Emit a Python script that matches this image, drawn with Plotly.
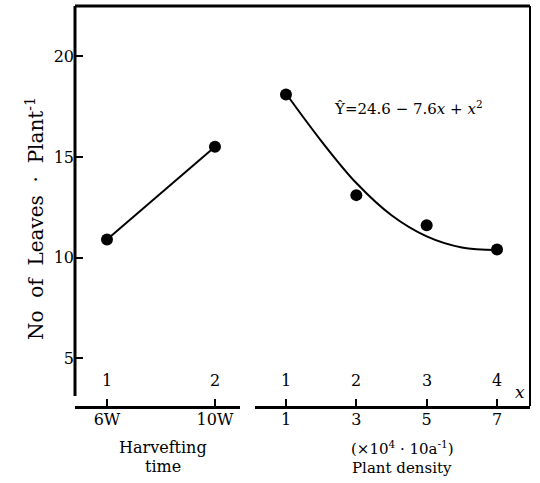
import plotly.graph_objects as go

# ---- data ----
harvest_labels = ["6W", "10W"]
harvest_code = [1, 2]
harvest_leaves = [10.9, 15.5]

density = [1, 3, 5, 7]
density_code = [1, 2, 3, 4]
density_leaves = [18.1, 13.1, 11.6, 10.4]

# fitted curve (density, leaves)
curve_density = [1, 2, 3, 4, 5, 6, 7]
curve_leaves = [18.15, 15.8, 13.7, 12.1, 11.05, 10.5, 10.37]

y_ticks = [5, 10, 15, 20]
equation = "Ŷ=24.6 − 7.6<i>x</i> + <i>x</i><sup>2</sup>"

FONT = "DejaVu Serif"
BLACK = "black"

fig = go.Figure()

fig.add_trace(go.Scatter(
    x=harvest_code, y=harvest_leaves, mode="lines+markers",
    line=dict(color=BLACK, width=2), marker=dict(color=BLACK, size=12),
    xaxis="x", yaxis="y", showlegend=False))

fig.add_trace(go.Scatter(
    x=curve_density, y=curve_leaves, mode="lines", line_shape="spline",
    line=dict(color=BLACK, width=2, smoothing=1.0),
    xaxis="x2", yaxis="y", showlegend=False))

fig.add_trace(go.Scatter(
    x=density, y=density_leaves, mode="markers",
    marker=dict(color=BLACK, size=12),
    xaxis="x2", yaxis="y", showlegend=False))

axis_common = dict(showgrid=False, zeroline=False, ticks="inside", ticklen=7,
                   tickwidth=2, tickcolor=BLACK, showline=True, linewidth=3,
                   linecolor=BLACK, automargin=False, ticklabelstandoff=-3,
                   tickfont=dict(family=FONT, size=16, color=BLACK))

fig.update_layout(
    width=540, height=483,
    margin=dict(l=75, r=10, t=6, b=77),
    paper_bgcolor="white", plot_bgcolor="white",
    font=dict(family=FONT, color=BLACK),
    xaxis=dict(domain=[0, 0.3626], range=[0.7037, 2.2315],
               tickmode="array", tickvals=harvest_code, ticktext=harvest_labels,
               anchor="y", **axis_common),
    xaxis2=dict(domain=[0.3956, 1], range=[0.1193, 7.9375],
                tickmode="array", tickvals=density, ticktext=[str(d) for d in density],
                anchor="y", **axis_common),
    yaxis=dict(range=[2.62, 22.5], tickmode="array", tickvals=y_ticks,
               showgrid=False, zeroline=False, ticks="inside", ticklen=8,
               tickwidth=2, tickcolor=BLACK, showline=False, automargin=False,
               tickfont=dict(family=FONT, size=16, color=BLACK), anchor="x"),
)

# frame lines
fig.add_shape(type="line", xref="paper", yref="paper", x0=0, x1=1, y0=1, y1=1,
              line=dict(color=BLACK, width=3))
fig.add_shape(type="line", xref="paper", yref="paper", x0=1, x1=1, y0=0, y1=1,
              line=dict(color=BLACK, width=2))
fig.add_shape(type="line", xref="paper", yref="paper", x0=0, x1=0, y0=0.025, y1=1,
              line=dict(color=BLACK, width=3))

ann = []
# code labels above the bottom axis
for c in harvest_code:
    ann.append(dict(x=c, xref="x", y=0, yref="paper", yanchor="middle", yshift=26,
                    text=str(c), showarrow=False, font=dict(size=16)))
for d, c in zip(density, density_code):
    ann.append(dict(x=d, xref="x2", y=0, yref="paper", yanchor="middle", yshift=26,
                    text=str(c), showarrow=False, font=dict(size=16)))
ann.append(dict(x=1, xref="paper", y=0, yref="paper", xanchor="right", yanchor="middle",
                xshift=-3, yshift=14, text="<i>x</i>", showarrow=False, font=dict(size=17)))
# equation
ann.append(dict(x=4.49, xref="x2", y=17.45, yref="y", text=equation, showarrow=False,
                font=dict(size=15)))
# axis titles
ann.append(dict(x=0, xref="paper", y=0.4675, yref="paper", xshift=-55, textangle=-90,
                text="No  of  Leaves  ·  Plant<sup>-1</sup>", showarrow=False,
                font=dict(size=20)))
ann.append(dict(x=1.52, xref="x", y=0, yref="paper", yanchor="middle", yshift=-41,
                text="Harvefting", showarrow=False, font=dict(size=16)))
ann.append(dict(x=1.52, xref="x", y=0, yref="paper", yanchor="middle", yshift=-60,
                text="time", showarrow=False, font=dict(size=16)))
ann.append(dict(x=4.3, xref="x2", y=0, yref="paper", yanchor="middle", yshift=-42,
                text="(×10<sup>4</sup> · 10a<sup>-1</sup>)", showarrow=False,
                font=dict(size=15)))
ann.append(dict(x=4.3, xref="x2", y=0, yref="paper", yanchor="middle", yshift=-62,
                text="Plant density", showarrow=False, font=dict(size=15)))
fig.update_layout(annotations=ann)

fig.write_html("out.html", config={"displayModeBar": False},
               post_script="document.body.style.margin='0';")
